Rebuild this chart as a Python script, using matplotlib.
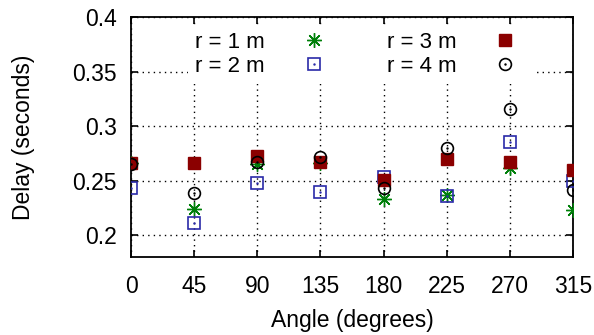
import matplotlib
matplotlib.use("Agg")
import matplotlib.pyplot as plt

angles = [0, 45, 90, 135, 180, 225, 270, 315]
delay_r1 = [0.266, 0.224, 0.265, 0.266, 0.233, 0.237, 0.262, 0.223]
delay_r2 = [0.243, 0.211, 0.248, 0.240, 0.253, 0.236, 0.285, 0.250]
delay_r3 = [0.266, 0.266, 0.273, 0.267, 0.251, 0.270, 0.267, 0.260]
delay_r4 = [0.265, 0.239, 0.267, 0.272, 0.243, 0.280, 0.316, 0.241]
labels = ["r = 1 m", "r = 2 m", "r = 3 m", "r = 4 m"]

plt.rcParams["font.family"] = ["Liberation Sans", "DejaVu Sans"]
plt.rcParams["font.size"] = 16.5

fig = plt.figure(figsize=(5.94, 3.35), dpi=100)
ax = fig.add_axes([131 / 594, 1 - 257 / 335, 442 / 594, 240 / 335])

green = "#00800a"
blue = "#2a2aa8"
red = "#8b0000"
ms = 8.5

# gnuplot-style point types, the hollow ones get a small centre dot
h1, = ax.plot(angles, delay_r1, ls="none", marker=(8, 2, 0), ms=ms + 2,
              mec=green, mew=1.0, zorder=3)
h2, = ax.plot(angles, delay_r2, ls="none", marker="s", ms=ms - 0.5,
              mfc="none", mec=blue, mew=1.2, zorder=3)
d2, = ax.plot(angles, delay_r2, ls="none", marker=".", ms=1.5, color=blue, zorder=3)
h3, = ax.plot(angles, delay_r3, ls="none", marker="s", ms=ms,
              mfc=red, mec=red, zorder=3)
h4, = ax.plot(angles, delay_r4, ls="none", marker="o", ms=ms,
              mfc="none", mec="black", mew=1.2, zorder=3)
d4, = ax.plot(angles, delay_r4, ls="none", marker=".", ms=1.5, color="black", zorder=3)

ax.set_xlim(0, 315)
ax.set_ylim(0.18, 0.4)
ax.set_xticks(angles)
ax.set_yticks([0.2, 0.25, 0.3, 0.35, 0.4])
ax.set_yticklabels(["0.2", "0.25", "0.3", "0.35", "0.4"])
ax.grid(True, color="black", linestyle=(0, (1, 3)), linewidth=1.0, zorder=0)
ax.set_axisbelow(True)
ax.tick_params(direction="in", top=True, right=True, length=5, width=1.2)
ax.tick_params(axis="x", pad=13)
ax.tick_params(axis="y", pad=10)
for sp in ax.spines.values():
    sp.set_linewidth(1.3)

ax.set_xlabel("Angle (degrees)", labelpad=8)
ax.set_ylabel("Delay (seconds)", labelpad=27)

leg = ax.legend([h1, (h2, d2), h3, (h4, d4)], labels, ncol=2, markerfirst=False,
                loc="center", bbox_to_anchor=(0.521, 0.845), handlelength=2.0,
                handletextpad=1.2, columnspacing=2.3, labelspacing=0.15,
                borderpad=0.3, frameon=True, fancybox=False, framealpha=1.0,
                edgecolor="none", facecolor="white", fontsize=16)
leg.set_zorder(2)

fig.savefig("out.png", dpi=100)
